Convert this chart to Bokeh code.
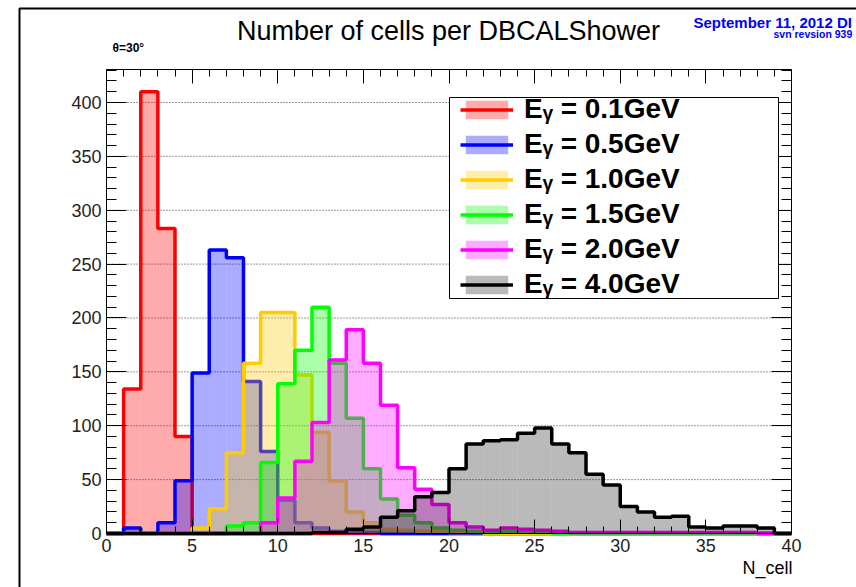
from bokeh.plotting import figure
from bokeh.models import (LinearAxis, FixedTicker, Label, BoxAnnotation, Legend,
                          LegendItem, ColumnDataSource, Range1d, CustomJSTickFormatter)
from bokeh.embed import file_html
from bokeh.resources import INLINE

# ---- data: 40 bins of width 1 from 0 to 40 ----
bin_edges = list(range(0, 41))
energies = ["0.1", "0.5", "1.0", "1.5", "2.0", "4.0"]
colors = ["#ff0000", "#0000ff", "#ffcc00", "#00ff00", "#ff00ff", "#000000"]

e01 = [0, 134, 410, 283, 90, 0, 0, 0, 0, 0, 0, 0, 0, 0, 0, 0, 0, 0, 0, 0,
       0, 0, 0, 0, 0, 0, 0, 0, 0, 0, 0, 0, 0, 0, 0, 0, 0, 0, 0, 0]
e05 = [0, 5, 0, 10, 49, 149, 263, 256, 141, 76, 31, 10, 5, 2, 1, 1, 0, 0, 0, 0,
       0, 0, 0, 0, 0, 0, 0, 0, 0, 0, 0, 0, 0, 0, 0, 0, 0, 0, 0, 0]
e10 = [0, 0, 0, 0, 0, 5, 23, 75, 158, 205, 205, 147, 94, 49, 20, 10, 4, 3, 2, 2,
       1, 1, 0, 0, 0, 0, 0, 0, 0, 0, 0, 0, 0, 0, 0, 0, 0, 0, 0, 0]
e15 = [0, 0, 0, 0, 0, 0, 0, 7, 10, 66, 139, 170, 210, 158, 107, 60, 32, 17, 10, 5,
       3, 2, 1, 2, 2, 1, 0, 0, 0, 0, 0, 0, 0, 0, 0, 0, 0, 0, 0, 0]
e20 = [0, 0, 0, 0, 0, 0, 0, 0, 0, 10, 33, 67, 103, 161, 189, 158, 119, 61, 41, 27,
       10, 6, 3, 5, 4, 3, 2, 1, 1, 1, 1, 1, 1, 1, 1, 1, 1, 1, 0, 0]
e40 = [0, 0, 0, 0, 0, 0, 0, 0, 0, 0, 0, 0, 1, 1, 4, 6, 15, 21, 34, 38,
       60, 83, 86, 87, 93, 98, 83, 75, 55, 45, 25, 20, 15, 16, 6, 5, 7, 7, 5, 0]
series = [e01, e05, e10, e15, e20, e40]

x_major = [0, 5, 10, 15, 20, 25, 30, 35, 40]
x_minor = list(range(0, 41))
y_major = [0, 50, 100, 150, 200, 250, 300, 350, 400]
y_minor = list(range(0, 431, 10))
x_lo, x_hi = 0, 40
y_lo, y_hi = 0, 430.6

# ---- canvas geometry (pixels) ----
W, H = 856, 587
fx0, fx1 = 106, 791          # inner plot box, left/right
fy_top, fy_bot = 69, 533     # inner plot box, top/bottom
sx = (fx1 - fx0) / (x_hi - x_lo)
sy = (fy_bot - fy_top) / (y_hi - y_lo)
x_range = Range1d(x_lo - fx0 / sx, x_hi + (W - fx1) / sx)
y_range = Range1d(y_lo - (H - fy_bot) / sy, y_hi + fy_top / sy)

p = figure(width=W, height=H, x_range=x_range, y_range=y_range,
           output_backend="svg", toolbar_location=None,
           x_axis_type=None, y_axis_type=None,
           min_border=0, min_border_left=0, min_border_right=0,
           min_border_top=0, min_border_bottom=0)
p.outline_line_color = None
p.background_fill_color = "white"
p.border_fill_color = "white"

xt = FixedTicker(ticks=x_major, minor_ticks=x_minor)
yt = FixedTicker(ticks=y_major, minor_ticks=y_minor)
blank = CustomJSTickFormatter(code="return ''")


def make_axis(ticker, tin, tmin, loc, bounds, labels=True):
    ax = LinearAxis(ticker=ticker, fixed_location=loc, bounds=bounds,
                    major_tick_in=tin, major_tick_out=0,
                    minor_tick_in=tmin, minor_tick_out=0,
                    axis_line_color="black", major_tick_line_color="black",
                    minor_tick_line_color="black",
                    major_label_text_font="Liberation Sans",
                    major_label_text_font_size="18px",
                    major_label_text_color="#222222",
                    major_label_standoff=5)
    if not labels:
        ax.formatter = blank
        ax.major_label_text_font_size = "0px"
    return ax


# dotted horizontal grid at the major y ticks, inside the plot box only
grid_y = [v for v in y_major if v > y_lo]
p.segment(x0=[x_lo] * len(grid_y), x1=[x_hi] * len(grid_y), y0=grid_y, y1=grid_y,
          line_color="#333333", line_dash="1 2", line_width=1)

items = []
for e, col, vals in zip(energies, colors, series):
    src = ColumnDataSource(dict(left=bin_edges[:-1], right=bin_edges[1:], top=vals,
                                bottom=[0] * len(vals)))
    alpha = 0.27 if col == "#000000" else 0.33
    q = p.quad(left="left", right="right", top="top", bottom="bottom", source=src,
               fill_color=col, fill_alpha=alpha, line_color=None)
    s = p.step(x=bin_edges, y=vals + [vals[-1]], mode="after", line_color=col,
               line_width=3.5)
    items.append(LegendItem(label=f"E\u1d67 = {e}GeV", renderers=[q, s]))

p.add_layout(make_axis(xt, 14, 7, y_lo, (x_lo, x_hi)), "below")
p.add_layout(make_axis(yt, 20, 10, x_lo, (y_lo, y_hi)), "left")
p.add_layout(make_axis(xt, 14, 7, y_hi, (x_lo, x_hi), labels=False), "above")
p.add_layout(make_axis(yt, 20, 10, x_hi, (y_lo, y_hi), labels=False), "right")


def scr(**kw):
    return dict(x_units="screen", y_units="screen", **kw)


# legend frame
p.add_layout(BoxAnnotation(left=449, right=778, top=H - 97, bottom=H - 298,
                           left_units="screen", right_units="screen",
                           top_units="screen", bottom_units="screen",
                           fill_color="white", fill_alpha=1.0,
                           line_color="black", line_width=1, line_alpha=1.0))
legend = Legend(items=items, location=(460, H - 300), padding=0, spacing=3, margin=0,
                glyph_width=53, glyph_height=23, label_standoff=11, label_width=250,
                label_text_font="Liberation Sans", label_text_font_style="bold",
                label_text_font_size="28px", label_text_color="black",
                border_line_color=None, background_fill_alpha=0.0)
p.add_layout(legend)

# outer canvas border (top and left edges visible)
p.add_layout(BoxAnnotation(left=19, right=W + 3, top=H - 8, bottom=-3,
                           left_units="screen", right_units="screen",
                           top_units="screen", bottom_units="screen",
                           fill_color=None, fill_alpha=0.0,
                           line_color="black", line_width=2, line_alpha=1.0))

# texts
p.add_layout(Label(**scr(x=448, y=H - 30), text="Number of cells per DBCALShower",
                   text_align="center", text_baseline="alphabetic",
                   text_font="Liberation Sans", text_font_size="27px", text_color="black"))
p.add_layout(Label(**scr(x=693, y=H - 22), text="September 11, 2012 DI",
                   text_align="left", text_baseline="alphabetic",
                   text_font="Liberation Sans", text_font_style="bold",
                   text_font_size="15px", text_color="#0000ff"))
p.add_layout(Label(**scr(x=773, y=H - 33), text="svn revsion 939",
                   text_align="left", text_baseline="alphabetic",
                   text_font="Liberation Sans", text_font_style="bold",
                   text_font_size="10.5px", text_color="#0000ff"))
p.add_layout(Label(**scr(x=112, y=H - 47), text="\u03b8=30\u00b0",
                   text_align="left", text_baseline="alphabetic",
                   text_font="Liberation Sans", text_font_style="bold",
                   text_font_size="12px", text_color="black"))
p.add_layout(Label(**scr(x=792, y=H - 567), text="N_cell",
                   text_align="right", text_baseline="alphabetic",
                   text_font="Liberation Sans", text_font_size="18px", text_color="black"))

open("out.html", "w").write(file_html(p, INLINE))
